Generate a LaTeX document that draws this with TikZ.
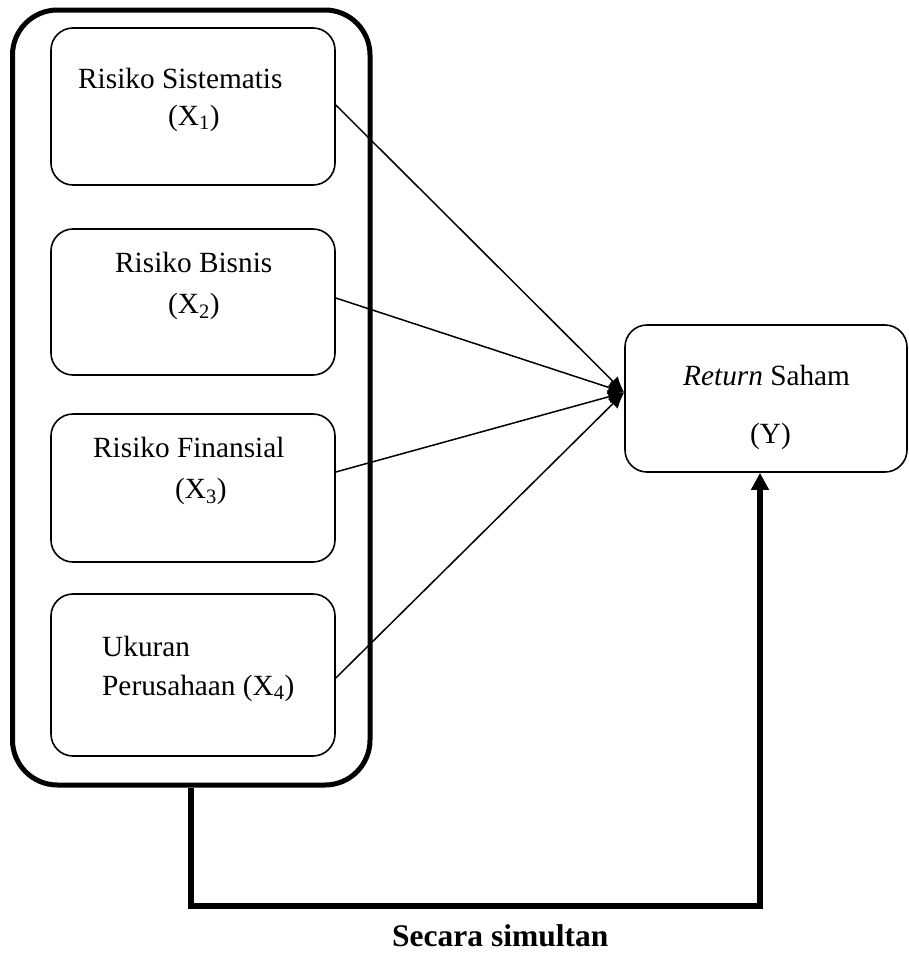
\documentclass[tikz,border=0pt]{standalone}
\usepackage{fontspec}
\setmainfont{Liberation Serif}
\usetikzlibrary{arrows.meta}
\begin{document}
\begin{tikzpicture}[x=1pt,y=-1pt,
  outerbox/.style={draw, line width=5pt, rounded corners=45pt, minimum width=357.5pt, minimum height=775pt, inner sep=0pt},
  varbox/.style={draw, line width=1.6pt, rounded corners=22pt, inner sep=0pt, minimum width=284pt},
  lbl/.style={inner sep=0pt, anchor=base west, font=\fontsize{29.3}{35}\selectfont},
  boldlbl/.style={inner sep=0pt, anchor=base west, font=\fontsize{31.5}{37}\selectfont\bfseries},
  link/.style={line width=1.5pt, -{Latex[length=16pt,width=14pt]}},
  simul/.style={line width=6pt, -{Triangle[length=17pt,width=17pt]}}
]
\useasboundingbox (0,0) rectangle (909,953);

% outer group
\node[outerbox] (outer) at (191.25,397.5) {};

% variable boxes
\node[varbox, minimum height=157pt] (b1) at (193,106.5) {};
\node[varbox, minimum height=146pt] (b2) at (193,302) {};
\node[varbox, minimum height=148pt] (b3) at (193,488) {};
\node[varbox, minimum height=162pt] (b4) at (193,675) {};
\node[varbox, minimum width=282pt, minimum height=147pt] (Y) at (766,398.5) {};

% labels
\node[lbl] (t1a) at (78,88) {Risiko Sistematis};
\node[lbl] (t1b) at (168,125) {(X\textsubscript{1})};
\node[lbl] (t2a) at (115,272) {Risiko Bisnis};
\node[lbl] (t2b) at (168,313) {(X\textsubscript{2})};
\node[lbl] (t3a) at (93,457) {Risiko Finansial};
\node[lbl] (t3b) at (175,498) {(X\textsubscript{3})};
\node[lbl] (t4a) at (102,656) {Ukuran};
\node[lbl] (t4b) at (102,695) {Perusahaan (X\textsubscript{4})};
\node[lbl] (tya) at (683,385) {\textit{Return} Saham};
\node[lbl] (tyb) at (750,443) {(Y)};
\node[boldlbl] (ts) at (392,946) {Secara simultan};

% partial arrows
\coordinate (tip) at ([yshift=6pt]Y.west);
\draw[link] ([yshift=1.5pt]b1.east) -- (tip);
\draw[link] ([yshift=4pt]b2.east) -- (tip);
\draw[link] ([yshift=16pt]b3.east) -- (tip);
\draw[link] ([yshift=-3pt]b4.east) -- (tip);

% simultaneous arrow
\coordinate (bl) at (191.25,906);
\coordinate (br) at (760,906);
\draw[simul] (outer.south) -- (bl) -- (br) -- (br |- Y.south);
\end{tikzpicture}
\end{document}
